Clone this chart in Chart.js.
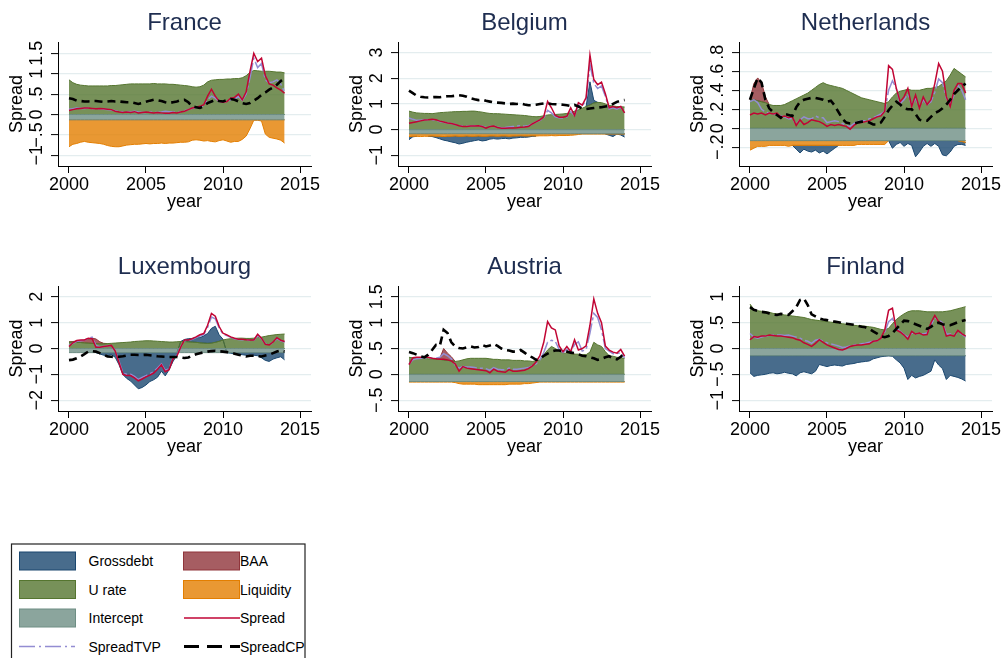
<!DOCTYPE html>
<html>
<head>
<meta charset="utf-8">
<title>Spread decomposition by country</title>
<script src="https://cdn.jsdelivr.net/npm/chart.js@4.4.1/dist/chart.umd.min.js"></script>
<style>
  html, body { margin: 0; padding: 0; background: #fff; width: 1002px; height: 658px; overflow: hidden; }
  body { position: relative; font-family: "Liberation Sans", Arial, sans-serif; }
  canvas { position: absolute; }
  #legend { position: absolute; left: 0; top: 530px; }
</style>
</head>
<body>
<svg id="legend" width="330" height="128" xmlns="http://www.w3.org/2000/svg" font-family="Liberation Sans, Arial, sans-serif" font-size="14">
  <rect x="11.5" y="14" width="293.5" height="140" fill="none" stroke="#222" stroke-width="1.2"/>
  <rect x="19.5" y="22" width="56" height="18" fill="rgba(26,71,111,0.8)" stroke="#1a476f" stroke-width="1"/>
  <text x="88.5" y="31" dominant-baseline="central" fill="#000">Grossdebt</text>
  <rect x="183.5" y="22" width="56" height="18" fill="rgba(144,53,59,0.8)" stroke="#90353b" stroke-width="1"/>
  <text x="240" y="31" dominant-baseline="central" fill="#000">BAA</text>
  <rect x="19.5" y="50.5" width="56" height="18" fill="rgba(85,117,47,0.8)" stroke="#55752f" stroke-width="1"/>
  <text x="88.5" y="59.5" dominant-baseline="central" fill="#000">U rate</text>
  <rect x="183.5" y="50.5" width="56" height="18" fill="rgba(227,126,0,0.8)" stroke="#e37e00" stroke-width="1"/>
  <text x="240" y="59.5" dominant-baseline="central" fill="#000">Liquidity</text>
  <rect x="19.5" y="79" width="56" height="18" fill="rgba(110,142,132,0.8)" stroke="#6e8e84" stroke-width="1"/>
  <text x="88.5" y="88" dominant-baseline="central" fill="#000">Intercept</text>
  <line x1="184" y1="88" x2="240" y2="88" stroke="#c10534" stroke-width="1.5"/>
  <text x="240" y="88" dominant-baseline="central" fill="#000">Spread</text>
  <line x1="19" y1="116.5" x2="75" y2="116.5" stroke="#938dd2" stroke-width="1.5" stroke-dasharray="16,4,2,4"/>
  <text x="88.5" y="116.5" dominant-baseline="central" fill="#000">SpreadTVP</text>
  <line x1="184" y1="116.5" x2="240" y2="116.5" stroke="#000" stroke-width="3" stroke-dasharray="15,8"/>
  <text x="240" y="116.5" dominant-baseline="central" fill="#000">SpreadCP</text>
</svg>
<script>
// Quarterly observation dates shared by every country
const quarters = [2000,2000.25,2000.5,2000.75,2001,2001.25,2001.5,2001.75,2002,2002.25,2002.5,2002.75,
  2003,2003.25,2003.5,2003.75,2004,2004.25,2004.5,2004.75,2005,2005.25,2005.5,2005.75,
  2006,2006.25,2006.5,2006.75,2007,2007.25,2007.5,2007.75,2008,2008.25,2008.5,2008.75,
  2009,2009.25,2009.5,2009.75,2010,2010.25,2010.5,2010.75,2011,2011.25,2011.5,2011.75,
  2012,2012.25,2012.5,2012.75,2013,2013.25,2013.5,2013.75,2014];
const xTicks = [2000, 2005, 2010, 2015];

// ---- France ----
const frIntercept = -0.13;
const frUrate = [0.85,0.78,0.74,0.72, 0.71,0.70,0.70,0.70, 0.70,0.70,0.70,0.71, 0.71,0.72,0.73,0.74, 0.75,0.75,0.75,0.75, 0.75,0.75,0.76,0.75, 0.75,0.75,0.74,0.74, 0.73,0.72,0.71,0.70, 0.68,0.67,0.68,0.72, 0.80,0.84,0.85,0.86, 0.86,0.87,0.87,0.88, 0.88,0.90,0.95,1.03, 1.08,1.07,1.06,1.06, 1.06,1.05,1.04,1.04, 1.02];
const frLiq = [-0.66,-0.60,-0.58,-0.55, -0.53,-0.55,-0.56,-0.57, -0.58,-0.60,-0.63,-0.65, -0.66,-0.66,-0.64,-0.62, -0.61,-0.60,-0.60,-0.59, -0.58,-0.59,-0.58,-0.58, -0.57,-0.58,-0.57,-0.57, -0.56,-0.55,-0.55,-0.54, -0.50,-0.49,-0.50,-0.52, -0.51,-0.53,-0.54,-0.51, -0.49,-0.52,-0.55,-0.53, -0.53,-0.48,-0.40,-0.22, -0.01,-0.01,-0.03,-0.35, -0.43,-0.45,-0.47,-0.50, -0.57];
const frSpread = [0.10,0.12,0.14,0.15, 0.16,0.16,0.15,0.14, 0.15,0.14,0.13,0.12, 0.08,0.06,0.05,0.06, 0.05,0.07,0.04,0.05, 0.06,0.05,0.04,0.05, 0.04,0.03,0.03,0.05, 0.04,0.06,0.08,0.12, 0.16,0.18,0.20,0.24, 0.45,0.62,0.45,0.32, 0.30,0.32,0.40,0.42, 0.50,0.36,0.55,1.05, 1.50,1.30,1.38,0.95, 0.75,0.72,0.65,0.60, 0.52];
const frTvp = [0.13,0.14,0.16,0.15, 0.15,0.16,0.14,0.14, 0.14,0.13,0.12,0.11, 0.09,0.07,0.06,0.07, 0.06,0.08,0.06,0.05, 0.05,0.06,0.05,0.05, 0.06,0.08,0.07,0.06, 0.05,0.07,0.09,0.12, 0.15,0.17,0.19,0.22, 0.36,0.45,0.40,0.32, 0.30,0.32,0.36,0.38, 0.44,0.35,0.50,0.90, 1.38,1.15,1.25,0.85, 0.78,0.80,0.85,0.75, 0.55];
const frCp = [0.40,0.38,0.34,0.33, 0.32,0.32,0.33,0.33, 0.32,0.31,0.32,0.33, 0.32,0.32,0.31,0.30, 0.30,0.28,0.26,0.28, 0.31,0.34,0.36,0.35, 0.33,0.30,0.28,0.30, 0.32,0.35,0.36,0.30, 0.20,0.18,0.16,0.20, 0.28,0.32,0.36,0.33, 0.32,0.35,0.38,0.36, 0.32,0.28,0.26,0.28, 0.34,0.40,0.48,0.54, 0.61,0.66,0.73,0.82, 0.89];
const frYTicks = [-1, -0.5, 0, 0.5, 1, 1.5];
const frYLabels = ['\u22121', '\u2212.5', '0', '.5', '1', '1.5'];
const frYRange = [-1.262, 1.777];

// ---- Belgium ----
const beIntercept = -0.16;
const beUrate = [0.72,0.68,0.65,0.64, 0.63,0.63,0.62,0.64, 0.66,0.67,0.68,0.69, 0.70,0.70,0.71,0.71, 0.72,0.72,0.70,0.68, 0.65,0.63,0.62,0.62, 0.61,0.60,0.59,0.58, 0.57,0.56,0.55,0.53, 0.51,0.50,0.51,0.54, 0.57,0.58,0.59,0.60, 0.61,0.63,0.66,0.72, 0.77,0.83,0.90,0.96, 1.04,1.06,1.05,1.00, 0.94,0.92,0.90,0.89, 0.88];
const beLiq = [-0.11,-0.10,-0.10,-0.11, -0.10,-0.10,-0.09,-0.10, -0.10,-0.11,-0.10,-0.10, -0.09,-0.10,-0.10,-0.09, -0.10,-0.10,-0.09,-0.10, -0.10,-0.09,-0.09,-0.10, -0.09,-0.09,-0.10,-0.09, -0.09,-0.08,-0.09,-0.09, -0.08,-0.09,-0.08,-0.08, -0.08,-0.07,-0.08,-0.07, -0.07,-0.07,-0.06,-0.05, -0.03,-0.01,-0.01,-0.01, -0.01,-0.01,-0.01,-0.01, -0.01,-0.01,-0.01,-0.01, -0.01];
const beGd = [-0.12,-0.02,0.00,0.00, 0.00,0.00,-0.02,-0.05, -0.10,-0.14,-0.18,-0.22, -0.26,-0.30,-0.27,-0.24, -0.20,-0.17,-0.15,-0.18, -0.16,-0.12,-0.10,-0.11, -0.10,-0.09,-0.10,-0.08, -0.07,-0.06,-0.05,-0.04, -0.02,0.00,0.00,0.00, 0.00,0.00,0.00,0.00, 0.00,0.00,0.00,0.00, 0.00,0.00,0.00,0.90, 0.10,0.00,0.00,0.00, -0.05,-0.10,0.00,-0.04, -0.12];
const beSpread = [0.25,0.28,0.31,0.34, 0.37,0.38,0.40,0.38, 0.33,0.30,0.26,0.24, 0.20,0.15,0.12,0.12, 0.14,0.14,0.15,0.12, 0.06,0.12,0.14,0.08, 0.05,0.05,0.06,0.06, 0.07,0.09,0.10,0.12, 0.22,0.30,0.38,0.50, 1.10,0.85,0.55,0.48, 0.48,0.52,0.85,0.55, 1.05,0.95,1.25,2.90, 1.95,1.75,1.85,1.40, 0.85,0.90,0.85,0.90, 0.65];
const beTvp = [0.45,0.40,0.36,0.36, 0.38,0.38,0.38,0.36, 0.32,0.29,0.26,0.24, 0.20,0.16,0.14,0.13, 0.14,0.15,0.15,0.13, 0.08,0.13,0.14,0.09, 0.07,0.08,0.10,0.12, 0.14,0.15,0.13,0.15, 0.22,0.30,0.36,0.45, 0.75,0.65,0.50,0.46, 0.45,0.50,0.70,0.55, 0.95,0.92,1.15,2.55, 1.80,1.60,1.70,1.30, 0.80,0.85,0.80,0.88, 0.65];
const beCp = [1.52,1.42,1.32,1.28, 1.26,1.25,1.26,1.27, 1.26,1.28,1.30,1.30, 1.32,1.34,1.32,1.28, 1.22,1.18,1.15,1.17, 1.12,1.09,1.06,1.05, 1.04,1.02,1.00,1.01, 1.00,1.02,0.98,0.95, 0.95,0.97,1.00,1.02, 1.02,1.00,0.99,0.98, 0.97,0.95,0.92,0.96, 0.90,0.82,0.80,0.82, 0.84,0.86,0.87,0.90, 0.92,1.00,1.08,1.13, 1.15];
const beYTicks = [-1, 0, 1, 2, 3];
const beYLabels = ['\u22121', '0', '1', '2', '3'];
const beYRange = [-1.416, 3.41];

// ---- Netherlands ----
const nlIntercept = -0.13;
const nlUrate = [0.30,0.30,0.29,0.28, 0.27,0.25,0.24,0.24, 0.24,0.25,0.27,0.29, 0.31,0.33,0.35,0.37, 0.40,0.43,0.46,0.48, 0.46,0.45,0.44,0.43, 0.42,0.40,0.38,0.36, 0.34,0.32,0.31,0.30, 0.29,0.28,0.27,0.26, 0.28,0.33,0.37,0.39, 0.40,0.41,0.40,0.40, 0.40,0.41,0.42,0.42, 0.43,0.44,0.47,0.50, 0.56,0.63,0.60,0.57, 0.54];
const nlBaa = [0.00,0.17,0.24,0.20, 0.06,0,0,0, 0,0,0,0, 0,0,0,0, 0,0,0,0, 0,0,0,0, 0,0,0,0, 0,0,0,0, 0,0,0,0, 0,0,0,0, 0,0,0,0, 0,0,0,0, 0,0,0,0, 0,0,0,0, 0];
const nlLiq = [-0.10,-0.08,-0.06,-0.06, -0.06,-0.05,-0.05,-0.05, -0.05,-0.05,-0.06,-0.05, -0.05,-0.05,-0.05,-0.05, -0.05,-0.05,-0.05,-0.05, -0.05,-0.05,-0.05,-0.05, -0.05,-0.05,-0.05,-0.05, -0.04,-0.04,-0.04,-0.04, -0.04,-0.04,-0.04,-0.04, 0,0,0,0, 0,0,0,0, 0,0,0,0, 0,0,0,0, 0,0,0,-0.01, -0.02];
const nlGd = [0,0,0,0, 0,0,0,0, 0,0,0,0, -0.04,-0.08,-0.04,-0.06, -0.07,-0.05,-0.08,-0.06, -0.09,-0.06,-0.03,0.00, 0,0,0,0, 0,0,0,0, 0,0,0,0, 0.00,-0.08,-0.04,-0.02, -0.06,-0.03,-0.05,-0.17, -0.12,-0.06,-0.03,-0.06, -0.03,-0.06,-0.15,-0.16, -0.12,-0.06,-0.04,-0.03, -0.03];
const nlSpread = [0.14,0.16,0.15,0.16, 0.14,0.16,0.15,0.16, 0.12,0.13,0.11,0.12, 0.03,0.09,0.04,0.06, 0.09,0.08,0.07,0.05, 0.02,0.04,0.03,0.04, 0.03,0.02,-0.01,0.03, 0.06,0.06,0.07,0.08, 0.10,0.12,0.13,0.18, 0.66,0.62,0.42,0.28, 0.33,0.42,0.23,0.35, 0.21,0.33,0.25,0.30, 0.47,0.68,0.60,0.33, 0.23,0.40,0.47,0.47, 0.37];
const nlTvp = [0.28,0.30,0.27,0.20, 0.17,0.16,0.15,0.15, 0.13,0.12,0.10,0.10, 0.04,0.09,0.12,0.10, 0.10,0.13,0.11,0.11, 0.06,0.07,0.08,0.07, 0.05,0.03,0.02,0.05, 0.07,0.08,0.08,0.10, 0.11,0.13,0.15,0.18, 0.40,0.50,0.42,0.26, 0.30,0.36,0.24,0.32, 0.22,0.30,0.25,0.28, 0.38,0.52,0.48,0.32, 0.25,0.35,0.45,0.40, 0.30];
const nlCp = [0.30,0.42,0.53,0.48, 0.30,0.21,0.17,0.14, 0.11,0.15,0.14,0.13, 0.22,0.28,0.30,0.31, 0.32,0.32,0.31,0.30, 0.28,0.29,0.24,0.17, 0.10,0.06,0.05,0.05, 0.06,0.07,0.07,0.06, 0.04,0.04,0.06,0.12, 0.19,0.24,0.28,0.25, 0.21,0.20,0.20,0.15, 0.09,0.08,0.08,0.12, 0.16,0.18,0.21,0.25, 0.30,0.36,0.40,0.44, 0.47];
const nlYTicks = [-0.2, 0, 0.2, 0.4, 0.6, 0.8];
const nlYLabels = ['\u2212.2', '0', '.2', '.4', '.6', '.8'];
const nlYRange = [-0.397, 0.908];

// ---- Luxembourg ----
const luIntercept = -0.16;
const luUrate = [0.25,0.25,0.24,0.23, 0.22,0.21,0.20,0.19, 0.18,0.18,0.19,0.20, 0.21,0.22,0.23,0.24, 0.25,0.27,0.28,0.29, 0.30,0.30,0.29,0.28, 0.27,0.26,0.25,0.25, 0.26,0.27,0.27,0.26, 0.25,0.24,0.22,0.21, 0.20,0.21,0.24,0.28, 0.33,0.36,0.38,0.39, 0.40,0.40,0.39,0.39, 0.40,0.42,0.44,0.47, 0.50,0.52,0.54,0.55, 0.56];
const luBaa = [0.00,0.02,0.05,0.08, 0.10,0.16,0.20,0.18, 0.08,0.02,0,0, 0,0,0,0, 0,0,0,0, 0,0,0,0, 0,0,0,0, 0,0,0,0, 0,0,0,0, 0,0,0,0, 0,0,0,0, 0,0,0,0, 0,0,0,0, 0,0,0,0, 0];
const luGd = [0,0,0,0, 0,0,0,0, -0.05,-0.10,-0.12,-0.08, -0.18,-0.47,-0.85,-1.00, -1.10,-1.25,-1.40,-1.35, -1.25,-1.12,-1.05,-0.95, -0.72,-0.90,-0.66,-0.35, -0.10,0.00,0.08,0.12, 0.14,0.18,0.20,0.28, 0.38,0.57,0.62,0.25, 0.03,0.00,-0.02,-0.05, -0.06,-0.08,-0.10,-0.12, -0.10,-0.12,-0.20,-0.30, -0.34,-0.25,-0.20,-0.16, -0.28];
const luSpread = [0.08,0.22,0.31,0.33, 0.33,0.40,0.38,0.05, 0.05,0.08,0.10,0.12, -0.10,-0.55,-1.00,-1.05, -1.05,-1.14,-1.25,-1.18, -1.10,-1.03,-0.95,-0.80, -0.63,-0.90,-0.82,-0.40, -0.30,0.05,0.33,0.33, 0.38,0.45,0.53,0.58, 0.90,1.36,1.25,0.85, 0.59,0.53,0.45,0.40, 0.36,0.36,0.34,0.33, 0.33,0.55,0.40,0.16, 0.14,0.25,0.42,0.32, 0.27];
const luTvp = [0.12,0.20,0.28,0.30, 0.32,0.40,0.44,0.12, 0.06,0.08,0.10,0.10, -0.08,-0.50,-0.95,-1.00, -1.00,-1.08,-1.20,-1.12, -1.05,-0.98,-0.90,-0.76, -0.60,-0.85,-0.78,-0.38, -0.28,0.05,0.30,0.32, 0.36,0.42,0.48,0.54, 0.82,1.22,1.15,0.80, 0.56,0.50,0.43,0.38, 0.35,0.34,0.33,0.31, 0.32,0.50,0.38,0.18, 0.15,0.24,0.38,0.30, 0.25];
const luCp = [-0.45,-0.43,-0.38,-0.31, -0.22,-0.12,-0.10,-0.12, -0.18,-0.24,-0.31,-0.32, -0.33,-0.32,-0.30,-0.27, -0.24,-0.24,-0.25,-0.25, -0.24,-0.26,-0.28,-0.30, -0.31,-0.32,-0.33,-0.33, -0.33,-0.35,-0.37,-0.35, -0.28,-0.22,-0.18,-0.15, -0.12,-0.10,-0.09,-0.11, -0.12,-0.14,-0.16,-0.20, -0.24,-0.28,-0.31,-0.28, -0.28,-0.30,-0.31,-0.27, -0.24,-0.18,-0.12,-0.08, -0.12];
const luYTicks = [-2, -1, 0, 1, 2];
const luYLabels = ['\u22122', '\u22121', '0', '1', '2'];
const luYRange = [-2.42, 2.42];

// ---- Austria ----
const atIntercept = -0.14;
const atUrate = [0.33,0.32,0.32,0.31, 0.31,0.30,0.30,0.29, 0.29,0.28,0.27,0.26, 0.25,0.26,0.28,0.30, 0.31,0.31,0.31,0.31, 0.31,0.30,0.29,0.29, 0.28,0.28,0.28,0.27, 0.27,0.27,0.26,0.26, 0.25,0.26,0.28,0.38, 0.47,0.54,0.50,0.45, 0.41,0.41,0.40,0.39, 0.39,0.38,0.38,0.43, 0.62,0.57,0.54,0.44, 0.36,0.35,0.33,0.32, 0.31];
const atBaa = [0,0,0,0, 0,0,0,0, 0.02,0.22,0.14,0.08, 0,0,0,0, 0,0,0,0, 0,0,0,0, 0,0,0,0, 0,0,0,0, 0,0,0,0, 0,0,0,0, 0,0,0.04,0, 0,0,0,0, 0,0,0,0, 0,0,0,0, 0];
const atLiq = [-0.01,-0.01,-0.01,-0.01, -0.01,-0.01,-0.01,-0.01, -0.01,-0.01,-0.01,-0.01, -0.02,-0.04,-0.05,-0.05, -0.05,-0.05,-0.06,-0.06, -0.06,-0.06,-0.06,-0.06, -0.06,-0.06,-0.05,-0.05, -0.05,-0.05,-0.04,-0.04, -0.03,-0.02,-0.01,-0.01, -0.01,-0.01,-0.01,-0.01, -0.01,-0.01,-0.01,-0.01, -0.01,-0.01,-0.01,-0.01, -0.01,-0.01,-0.01,-0.01, -0.01,-0.01,-0.01,-0.01, -0.01];
const atSpread = [0.19,0.32,0.33,0.33, 0.33,0.33,0.31,0.30, 0.29,0.29,0.28,0.26, 0.20,0.06,0.15,0.12, 0.11,0.10,0.09,0.08, 0.07,0.03,0.10,0.06, 0.05,0.04,0.09,0.06, 0.06,0.07,0.08,0.11, 0.16,0.24,0.36,0.62, 1.02,0.90,0.86,0.55, 0.44,0.54,0.44,0.67, 0.47,0.50,0.55,0.95, 1.46,1.18,1.00,0.55, 0.47,0.43,0.41,0.48, 0.35];
const atTvp = [0.20,0.28,0.30,0.31, 0.32,0.32,0.31,0.31, 0.33,0.40,0.36,0.30, 0.18,0.12,0.15,0.14, 0.14,0.13,0.12,0.12, 0.11,0.08,0.13,0.10, 0.09,0.09,0.12,0.10, 0.10,0.11,0.12,0.13, 0.16,0.20,0.28,0.42, 0.62,0.66,0.64,0.48, 0.42,0.48,0.42,0.58, 0.63,0.45,0.48,0.80, 1.18,1.10,0.86,0.50, 0.45,0.40,0.40,0.42, 0.32];
const atCp = [0.43,0.41,0.38,0.35, 0.33,0.38,0.47,0.57, 0.55,0.86,0.80,0.62, 0.54,0.51,0.50,0.52, 0.54,0.52,0.53,0.57, 0.54,0.56,0.59,0.55, 0.50,0.47,0.46,0.44, 0.44,0.47,0.42,0.36, 0.33,0.28,0.30,0.36, 0.40,0.44,0.46,0.46, 0.45,0.44,0.42,0.41, 0.39,0.36,0.35,0.33, 0.31,0.28,0.30,0.33, 0.35,0.31,0.29,0.34, 0.42];
const atYTicks = [-0.5, 0, 0.5, 1, 1.5];
const atYLabels = ['\u2212.5', '0', '.5', '1', '1.5'];
const atYRange = [-0.71, 1.71];

// ---- Finland ----
const fiIntercept = -0.14;
const fiUrate = [0.86,0.76,0.73,0.72, 0.71,0.70,0.68,0.67, 0.66,0.65,0.64,0.63, 0.62,0.61,0.60,0.58, 0.56,0.55,0.54,0.53, 0.52,0.51,0.50,0.49, 0.48,0.47,0.46,0.45, 0.44,0.44,0.43,0.42, 0.41,0.39,0.37,0.36, 0.39,0.48,0.56,0.62, 0.67,0.71,0.73,0.73, 0.73,0.72,0.71,0.71, 0.71,0.71,0.71,0.72, 0.73,0.75,0.77,0.79, 0.81];
const fiGd = [-0.33,-0.40,-0.38,-0.37, -0.36,-0.34,-0.33,-0.35, -0.34,-0.32,-0.34,-0.35, -0.39,-0.33,-0.31,-0.33, -0.35,-0.30,-0.17,-0.19, -0.21,-0.19,-0.18,-0.19, -0.20,-0.17,-0.16,-0.15, -0.13,-0.12,-0.11,-0.10, -0.06,-0.04,-0.02,-0.01, 0.00,-0.01,-0.08,-0.14, -0.24,-0.46,-0.38,-0.43, -0.40,-0.38,-0.34,-0.30, -0.08,-0.18,-0.25,-0.46, -0.38,-0.40,-0.42,-0.45, -0.49];
const fiSpread = [0.17,0.23,0.22,0.24, 0.24,0.26,0.25,0.24, 0.24,0.23,0.22,0.21, 0.18,0.16,0.11,0.08, 0.04,0.10,0.17,0.12, 0.07,0.04,0.01,-0.02, -0.03,0.00,0.04,0.06, 0.07,0.07,0.08,0.09, 0.14,0.15,0.20,0.36, 0.74,0.78,0.36,0.32, 0.26,0.18,0.33,0.28, 0.30,0.26,0.27,0.50, 0.64,0.52,0.48,0.24, 0.26,0.24,0.35,0.29, 0.24];
const fiTvp = [0.29,0.22,0.20,0.22, 0.24,0.25,0.26,0.26, 0.26,0.25,0.26,0.24, 0.22,0.20,0.16,0.14, 0.10,0.16,0.18,0.14, 0.11,0.09,0.07,0.05, 0.02,0.03,0.05,0.07, 0.08,0.09,0.10,0.12, 0.14,0.15,0.20,0.32, 0.52,0.58,0.40,0.33, 0.27,0.22,0.30,0.28, 0.30,0.28,0.30,0.45, 0.60,0.55,0.50,0.28, 0.28,0.27,0.30,0.28, 0.22];
const fiCp = [0.80,0.75,0.73,0.71, 0.70,0.68,0.66,0.65, 0.67,0.66,0.65,0.72, 0.80,0.94,0.97,0.84, 0.66,0.62,0.58,0.56, 0.55,0.53,0.52,0.51, 0.49,0.48,0.47,0.46, 0.44,0.42,0.41,0.38, 0.33,0.29,0.24,0.22, 0.24,0.30,0.38,0.46, 0.54,0.53,0.50,0.47, 0.44,0.41,0.38,0.42, 0.48,0.50,0.47,0.45, 0.45,0.48,0.51,0.53, 0.55];
const fiYTicks = [-1, -0.5, 0, 0.5, 1];
const fiYLabels = ['\u22121', '\u2212.5', '0', '.5', '1'];
const fiYRange = [-1.21, 1.21];

// Panel layout: grid position plus the series each panel draws
const panels = [
  { name: 'France', left: 0, top: 0, plotH: 124, intercept: frIntercept, urate: frUrate, liq: frLiq,
    spread: frSpread, tvp: frTvp, cp: frCp, yTicks: frYTicks, yLabels: frYLabels, yRange: frYRange },
  { name: 'Belgium', left: 340, top: 0, plotH: 124, intercept: beIntercept, urate: beUrate, liq: beLiq, gd: beGd,
    spread: beSpread, tvp: beTvp, cp: beCp, yTicks: beYTicks, yLabels: beYLabels, yRange: beYRange },
  { name: 'Netherlands', left: 681, top: 0, plotH: 124, intercept: nlIntercept, urate: nlUrate, liq: nlLiq, baa: nlBaa, gd: nlGd,
    spread: nlSpread, tvp: nlTvp, cp: nlCp, yTicks: nlYTicks, yLabels: nlYLabels, yRange: nlYRange },
  { name: 'Luxembourg', left: 0, top: 244, plotH: 125, intercept: luIntercept, urate: luUrate, baa: luBaa, gd: luGd,
    spread: luSpread, tvp: luTvp, cp: luCp, yTicks: luYTicks, yLabels: luYLabels, yRange: luYRange },
  { name: 'Austria', left: 340, top: 244, plotH: 125, intercept: atIntercept, urate: atUrate, liq: atLiq, baa: atBaa,
    spread: atSpread, tvp: atTvp, cp: atCp, yTicks: atYTicks, yLabels: atYLabels, yRange: atYRange },
  { name: 'Finland', left: 681, top: 244, plotH: 125, intercept: fiIntercept, urate: fiUrate, gd: fiGd,
    spread: fiSpread, tvp: fiTvp, cp: fiCp, yTicks: fiYTicks, yLabels: fiYLabels, yRange: fiYRange }
];

const COLORS = {
  gd: '#1a476f', baa: '#90353b', urate: '#55752f', liq: '#e37e00', icpt: '#6e8e84',
  spread: '#c10534', tvp: '#938dd2', cp: '#000000'
};
const FONT = '"Liberation Sans", Arial, Helvetica, sans-serif';
Chart.defaults.font.family = FONT;

function fade(hex, a) {
  const n = parseInt(hex.slice(1), 16);
  return `rgba(${(n >> 16) & 255},${(n >> 8) & 255},${n & 255},${a})`;
}
const pts = vals => vals.map((v, i) => ({ x: quarters[i], y: v }));

// Which side of zero each point of a contribution sits on; a zero value
// joins the side of its non-zero neighbour so the band collapses in place.
function sides(vals) {
  const out = [];
  for (let i = 0; i < vals.length; i++) {
    const v = vals[i];
    if (v > 0) out.push(1);
    else if (v < 0) out.push(-1);
    else {
      const prev = i > 0 ? vals[i - 1] : 0;
      const next = i < vals.length - 1 ? vals[i + 1] : 0;
      if (next !== 0) out.push(Math.sign(next));
      else if (prev !== 0) out.push(Math.sign(prev));
      else out.push(i > 0 ? out[i - 1] : 1);
    }
  }
  return out;
}

// Contributions are stacked: positives upward from zero, negatives downward.
function bandDatasets(p) {
  const parts = [
    ['icpt', quarters.map(() => p.intercept)],
    ['urate', p.urate], ['liq', p.liq], ['baa', p.baa], ['gd', p.gd]
  ];
  const n = quarters.length;
  const pos = new Array(n).fill(0), neg = new Array(n).fill(0);
  const sets = [];
  parts.forEach(([key, vals]) => {
    if (!vals) return;
    const side = sides(vals);
    const lo = [], hi = [];
    vals.forEach((v, i) => {
      if (side[i] > 0) { lo.push(pos[i]); hi.push(pos[i] + v); pos[i] += v; }
      else { hi.push(neg[i]); lo.push(neg[i] + v); neg[i] += v; }
    });
    const col = COLORS[key];
    const edge = {
      borderColor: ctx => (Math.abs(vals[ctx.p0DataIndex]) > 0.004 || Math.abs(vals[ctx.p1DataIndex]) > 0.004) ? col : 'rgba(0,0,0,0)'
    };
    const loIdx = sets.length;
    sets.push({ data: pts(lo), borderColor: col, borderWidth: 1, segment: edge, fill: false, order: 5 });
    sets.push({ data: pts(hi), borderColor: col, borderWidth: 1, segment: edge, fill: loIdx,
                backgroundColor: fade(col, 0.8), order: 5 });
  });
  return sets;
}

// Panel title and rotated y tick labels
const panelText = {
  id: 'panelText',
  afterDraw(chart, args, opts) {
    const { ctx, chartArea } = chart;
    const y = chart.scales.y;
    ctx.save();
    ctx.fillStyle = '#1e2d50';
    ctx.font = '24px ' + FONT;
    ctx.textAlign = 'center';
    ctx.textBaseline = 'alphabetic';
    ctx.fillText(opts.title, (chartArea.left + chartArea.right) / 2, chartArea.top - 12);
    ctx.fillStyle = '#000';
    ctx.font = '18px ' + FONT;
    opts.ticks.forEach((v, i) => {
      const py = y.getPixelForValue(v);
      ctx.save();
      ctx.translate(chartArea.left - 16, py);
      ctx.rotate(-Math.PI / 2);
      ctx.fillText(opts.labels[i], 0, 0);
      ctx.restore();
    });
    ctx.restore();
  }
};

const X_MIN = 1999.286, X_MAX = 2015.714;

panels.forEach(p => {
  const W = 321, H = 42 + p.plotH + 49;
  const cv = document.createElement('canvas');
  cv.width = W; cv.height = H;
  cv.style.left = p.left + 'px'; cv.style.top = p.top + 'px';
  cv.style.width = W + 'px'; cv.style.height = H + 'px';
  document.body.appendChild(cv);

  const datasets = bandDatasets(p).concat([
    { data: pts(p.tvp), borderColor: COLORS.tvp, borderWidth: 1.5, borderDash: [20, 3, 3, 3], fill: false, order: 3 },
    { data: pts(p.spread), borderColor: COLORS.spread, borderWidth: 1.5, fill: false, order: 2 },
    { data: pts(p.cp), borderColor: COLORS.cp, borderWidth: 2.6, borderDash: [8, 5], fill: false, order: 1 }
  ]);

  new Chart(cv, {
    type: 'line',
    data: { datasets },
    options: {
      responsive: false,
      animation: false,
      devicePixelRatio: 1,
      layout: { padding: { top: 42, right: 10, left: 0, bottom: 0 } },
      elements: { point: { radius: 0 }, line: { tension: 0 } },
      plugins: {
        legend: { display: false },
        tooltip: { enabled: false },
        title: { display: false },
        panelText: { title: p.name, ticks: p.yTicks, labels: p.yLabels }
      },
      scales: {
        x: {
          type: 'linear', min: X_MIN, max: X_MAX,
          afterBuildTicks: s => { s.ticks = xTicks.map(v => ({ value: v })); },
          afterFit: s => { s.height = 49; s.paddingLeft = 0; s.paddingRight = 0; },
          grid: { drawOnChartArea: false, drawTicks: true, tickLength: 7, tickColor: '#000', tickWidth: 1 },
          border: { display: true, color: '#000', width: 1 },
          ticks: { color: '#000', font: { size: 18 }, padding: 1, maxRotation: 0, autoSkip: false,
                   callback: v => String(v) },
          title: { display: true, text: 'year', color: '#000', font: { size: 18 }, padding: { top: 0, bottom: 2 } }
        },
        y: {
          type: 'linear', min: p.yRange[0], max: p.yRange[1],
          afterBuildTicks: s => { s.ticks = p.yTicks.map(v => ({ value: v })); },
          afterFit: s => { s.width = 58; s.paddingTop = 0; s.paddingBottom = 0; },
          grid: { color: '#e4edef', lineWidth: 1.2, drawTicks: true, tickLength: 7, tickColor: '#000', tickWidth: 1 },
          border: { display: true, color: '#000', width: 1 },
          ticks: { display: false },
          title: { display: true, text: 'Spread', color: '#000', font: { size: 18 }, padding: { top: 6, bottom: 0 } }
        }
      }
    },
    plugins: [panelText]
  });
});
</script>
</body>
</html>
